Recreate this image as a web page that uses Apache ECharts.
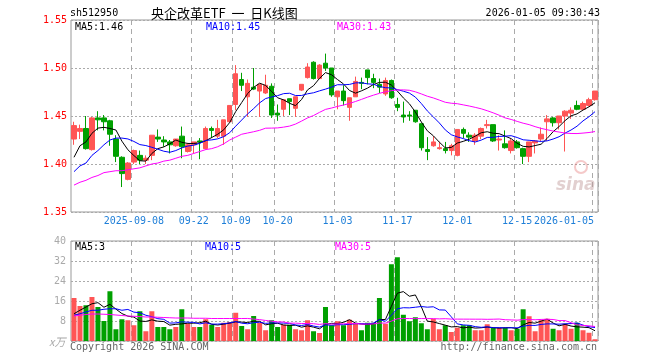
<!DOCTYPE html>
<html><head><meta charset="utf-8">
<script src="https://cdn.jsdelivr.net/npm/echarts@6/dist/echarts.min.js"></script>
<style>html,body{margin:0;padding:0;background:#fff}#c{width:660px;height:360px}</style>
</head><body><div id="c"></div>
<script>
// ---- data ----
const dates = [
 '2025-08-25','2025-08-26','2025-08-27','2025-08-28','2025-08-29',
 '2025-09-01','2025-09-02','2025-09-03','2025-09-04','2025-09-05',
 '2025-09-08','2025-09-09','2025-09-10','2025-09-11','2025-09-12',
 '2025-09-15','2025-09-16','2025-09-17','2025-09-18','2025-09-19',
 '2025-09-22','2025-09-23','2025-09-24','2025-09-25','2025-09-26',
 '2025-09-29','2025-09-30','2025-10-09','2025-10-10',
 '2025-10-13','2025-10-14','2025-10-15','2025-10-16','2025-10-17',
 '2025-10-20','2025-10-21','2025-10-22','2025-10-23','2025-10-24',
 '2025-10-27','2025-10-28','2025-10-29','2025-10-30','2025-10-31',
 '2025-11-03','2025-11-04','2025-11-05','2025-11-06','2025-11-07',
 '2025-11-10','2025-11-11','2025-11-12','2025-11-13','2025-11-14',
 '2025-11-17','2025-11-18','2025-11-19','2025-11-20','2025-11-21',
 '2025-11-24','2025-11-25','2025-11-26','2025-11-27','2025-11-28',
 '2025-12-01','2025-12-02','2025-12-03','2025-12-04','2025-12-05',
 '2025-12-08','2025-12-09','2025-12-10','2025-12-11','2025-12-12',
 '2025-12-15','2025-12-16','2025-12-17','2025-12-18','2025-12-19',
 '2025-12-22','2025-12-23','2025-12-24','2025-12-25','2025-12-26',
 '2025-12-29','2025-12-30','2025-12-31','2026-01-05'
];
const openP = [1.426,1.434,1.437,1.415,1.448,1.448,1.445,1.426,1.407,1.384,
 1.402,1.409,1.404,1.409,1.428,1.425,1.423,1.419,1.429,1.413,
 1.420,1.424,1.416,1.437,1.429,1.429,1.444,1.462,1.488,1.470,
 1.480,1.476,1.474,1.481,1.453,1.457,1.468,1.458,1.477,1.490,
 1.506,1.489,1.505,1.500,1.470,1.476,1.459,1.470,1.485,1.498,
 1.489,1.483,1.473,1.487,1.462,1.451,1.451,1.456,1.442,1.415,
 1.419,1.416,1.416,1.414,1.409,1.436,1.430,1.424,1.429,1.440,
 1.441,1.425,1.421,1.414,1.423,1.416,1.408,1.422,1.426,1.444,
 1.448,1.443,1.450,1.453,1.461,1.457,1.461,1.467];
const closeP = [1.440,1.437,1.416,1.448,1.446,1.444,1.431,1.408,1.390,1.401,
 1.414,1.404,1.406,1.430,1.426,1.423,1.420,1.426,1.418,1.420,
 1.423,1.423,1.437,1.435,1.437,1.446,1.461,1.494,1.482,1.484,
 1.478,1.483,1.482,1.451,1.451,1.467,1.465,1.470,1.483,1.501,
 1.489,1.503,1.500,1.472,1.476,1.466,1.469,1.486,1.484,1.490,
 1.485,1.480,1.487,1.469,1.459,1.449,1.450,1.444,1.417,1.413,
 1.423,1.417,1.414,1.419,1.436,1.432,1.428,1.430,1.437,1.441,
 1.424,1.426,1.417,1.424,1.417,1.408,1.423,1.424,1.431,1.447,
 1.443,1.450,1.455,1.456,1.457,1.463,1.467,1.476];
const lowP = [1.420,1.426,1.415,1.414,1.435,1.435,1.419,1.402,1.376,1.383,
 1.400,1.400,1.400,1.404,1.423,1.418,1.411,1.418,1.406,1.412,
 1.411,1.405,1.415,1.427,1.427,1.420,1.443,1.456,1.476,1.449,
 1.477,1.449,1.473,1.448,1.445,1.450,1.451,1.449,1.476,1.489,
 1.488,1.489,1.497,1.470,1.457,1.461,1.445,1.470,1.478,1.483,
 1.479,1.474,1.471,1.468,1.455,1.443,1.445,1.443,1.414,1.404,
 1.418,1.415,1.411,1.409,1.408,1.427,1.423,1.420,1.426,1.437,
 1.423,1.414,1.416,1.411,1.416,1.400,1.402,1.411,1.424,1.424,
 1.439,1.436,1.413,1.447,1.456,1.456,1.460,1.466];
const highP = [1.444,1.441,1.450,1.449,1.455,1.451,1.446,1.430,1.408,1.402,
 1.415,1.414,1.409,1.430,1.436,1.429,1.425,1.426,1.439,1.422,
 1.423,1.427,1.439,1.439,1.446,1.446,1.461,1.503,1.495,1.488,
 1.500,1.483,1.493,1.484,1.462,1.467,1.468,1.470,1.483,1.505,
 1.507,1.504,1.515,1.500,1.476,1.482,1.469,1.491,1.490,1.498,
 1.494,1.489,1.490,1.488,1.469,1.465,1.455,1.456,1.442,1.428,
 1.429,1.423,1.423,1.421,1.436,1.438,1.433,1.432,1.438,1.446,
 1.441,1.430,1.435,1.426,1.425,1.417,1.423,1.425,1.438,1.451,
 1.449,1.450,1.456,1.459,1.466,1.465,1.469,1.476];
const volume = [17.2,14.0,14.3,17.6,13.6,8.0,19.9,4.7,8.7,8.3,
 6.3,11.9,3.9,11.9,5.6,5.6,4.7,5.6,12.7,7.0,
 5.6,5.6,8.7,6.5,5.6,7.3,7.6,11.3,6.0,4.7,
 10.0,7.3,4.3,8.3,5.6,6.5,6.5,4.7,4.3,8.3,
 3.9,3.2,13.6,6.3,7.9,6.3,8.5,6.9,4.3,7.3,
 7.3,17.2,6.9,30.7,33.5,10.5,7.9,9.5,7.1,4.7,
 8.9,4.7,6.3,3.6,5.3,6.3,6.3,4.3,4.3,6.7,
 5.2,5.2,5.2,4.3,4.9,12.7,9.9,3.9,8.3,8.9,
 4.9,4.3,6.9,4.9,7.3,4.3,3.3,0.7];
// moving-average values before enough visible days exist
const ma5Head = [1.407,1.419,1.423,1.432];
const ma10Head = [1.392,1.398,1.401,1.409,1.414,1.420,1.425,1.427,1.427];
const ma30Head = [1.378,1.381,1.383,1.386,1.388,1.391,1.392,1.393,1.393,1.394,
 1.395,1.396,1.398,1.400,1.401,1.403,1.404,1.406,1.408,1.409,
 1.411,1.413,1.415,1.416,1.418,1.421,1.425,1.428,1.431];
const vma5Head = [10.9,12.3,13.6,14.9];
const vma10Head = [10.3,10.9,11.6,12.3,12.3,12.7,12.9,12.9,12.3];
const vma30Head = [10.0,10.3,10.6,10.8,10.8,10.7,10.6,10.4,10.2,10.0,
 9.9,9.8,9.6,9.6,9.5,9.4,9.3,9.2,9.2,9.2,
 9.1,9.1,9.1,9.0,9.0,9.0,9.0,9.0,9.0];
const tickDates = ['2025-09-08','2025-09-22','2025-10-09','2025-10-20','2025-11-03','2025-11-17','2025-12-01','2025-12-15','2026-01-05'];
const tickLabels = ['2025-09-08','09-22','10-09','10-20','11-03','11-17','12-01','12-15','2026-01-05'];
const priceTicks = [1.35,1.40,1.45,1.50,1.55];
const volTicks = [0,8,16,24,32,40];

// ---- helpers ----
function movingAvg(arr, n, head){
  return arr.map((v,i)=>{
    if(i < n-1) return head[i];
    let s=0; for(let k=i-n+1;k<=i;k++) s+=arr[k];
    return +(s/n).toFixed(4);
  });
}
const RED='#ff5555', GREEN='#00a000';
const kData = dates.map((d,i)=>[openP[i],closeP[i],lowP[i],highP[i]]);
const volData = volume.map((v,i)=>({value:v,itemStyle:{color: closeP[i]>=openP[i]?RED:GREEN}}));
const tickSet = new Set(tickDates);
const isTick = (idx,val)=>tickSet.has(dates[idx]);
const MONO = '"DejaVu Sans Mono", monospace';

const chart = echarts.init(document.getElementById('c'), null, {renderer:'canvas'});
const gridL = 71, gridW = 527;
const splitV = {show:true, interval:isTick, lineStyle:{color:'#aaa', type:[5,4], width:1}};
const option = {
  animation:false,
  backgroundColor:'#fff',
  grid:[
    {left:gridL, top:20, width:gridW, height:192, show:true, borderColor:'#999', borderWidth:1},
    {left:gridL, top:241, width:gridW, height:100, show:true, borderColor:'#999', borderWidth:1}
  ],
  xAxis:[
    {type:'category', gridIndex:0, data:dates, boundaryGap:true,
     axisLine:{show:false}, axisTick:{show:false}, splitLine:splitV,
     axisLabel:{interval:isTick, color:'#1f7fd8', fontFamily:MONO, fontSize:10, margin:4,
       formatter:(v)=>{const k=tickDates.indexOf(v); if(k<0) return ''; const t=tickLabels[k]; return k===tickLabels.length-1?'{r|'+t+'}':t;},
       rich:{r:{color:'#1f7fd8', fontFamily:MONO, fontSize:10, padding:[0,62,0,0]}}}},
    {type:'category', gridIndex:1, data:dates, boundaryGap:true,
     axisLine:{show:false}, axisTick:{show:false}, axisLabel:{show:false}, splitLine:splitV}
  ],
  yAxis:[
    {type:'value', gridIndex:0, min:priceTicks[0], max:priceTicks[priceTicks.length-1], interval:0.05,
     axisLine:{show:false}, axisTick:{show:false},
     axisLabel:{color:'#ff0000', fontFamily:MONO, fontSize:10, margin:4, formatter:v=>v.toFixed(2)},
     splitLine:{show:true, lineStyle:{color:'#aaa', type:[2,2], width:1}}},
    {type:'value', gridIndex:1, min:volTicks[0], max:volTicks[volTicks.length-1], interval:8,
     axisLine:{show:false}, axisTick:{show:false},
     axisLabel:{color:'#aaa', fontFamily:MONO, fontSize:10, margin:5, formatter:v=>v===0?'':String(v)},
     splitLine:{show:true, lineStyle:{color:'#aaa', type:[2,2], width:1}}}
  ],
  series:[
    {type:'candlestick', xAxisIndex:0, yAxisIndex:0, data:kData, barWidth:5,
     itemStyle:{color:RED, color0:GREEN, borderColor:RED, borderColor0:GREEN, borderWidth:1}, z:2},
    {type:'line', xAxisIndex:0, yAxisIndex:0, data:movingAvg(closeP,5,ma5Head), showSymbol:false, lineStyle:{color:'#000',width:1}, z:5},
    {type:'line', xAxisIndex:0, yAxisIndex:0, data:movingAvg(closeP,10,ma10Head), showSymbol:false, lineStyle:{color:'#0000ff',width:1}, z:5},
    {type:'line', xAxisIndex:0, yAxisIndex:0, data:movingAvg(closeP,30,ma30Head), showSymbol:false, lineStyle:{color:'#ff00ff',width:1}, z:5},
    {type:'bar', xAxisIndex:1, yAxisIndex:1, data:volData, barWidth:5, z:2},
    {type:'line', xAxisIndex:1, yAxisIndex:1, data:movingAvg(volume,5,vma5Head), showSymbol:false, lineStyle:{color:'#000',width:1}, z:5},
    {type:'line', xAxisIndex:1, yAxisIndex:1, data:movingAvg(volume,10,vma10Head), showSymbol:false, lineStyle:{color:'#0000ff',width:1}, z:5},
    {type:'line', xAxisIndex:1, yAxisIndex:1, data:movingAvg(volume,30,vma30Head), showSymbol:false, lineStyle:{color:'#ff00ff',width:1}, z:5}
  ],
  graphic:[
    {type:'text', x:70, y:13, style:{text:'sh512950', fill:'#000', font:'10px '+MONO, verticalAlign:'middle'}},
    {type:'text', x:151, y:13, style:{text:'央企改革ETF  一  日K线图', fill:'#000', font:'13px "Noto Sans CJK SC"', verticalAlign:'middle'}},
    {type:'text', x:600, y:13, style:{text:'2026-01-05 09:30:43', fill:'#000', font:'10px '+MONO, align:'right', verticalAlign:'middle'}},
    {type:'text', x:75, y:27, z:10, style:{text:'MA5:1.46', fill:'#000', font:'10px '+MONO, verticalAlign:'middle'}},
    {type:'text', x:206, y:27, z:10, style:{text:'MA10:1.45', fill:'#0000ff', font:'10px '+MONO, verticalAlign:'middle'}},
    {type:'text', x:337, y:27, z:10, style:{text:'MA30:1.43', fill:'#ff00ff', font:'10px '+MONO, verticalAlign:'middle'}},
    {type:'text', x:75, y:247, z:10, style:{text:'MA5:3', fill:'#000', font:'10px '+MONO, verticalAlign:'middle'}},
    {type:'text', x:205, y:247, z:10, style:{text:'MA10:5', fill:'#0000ff', font:'10px '+MONO, verticalAlign:'middle'}},
    {type:'text', x:335, y:247, z:10, style:{text:'MA30:5', fill:'#ff00ff', font:'10px '+MONO, verticalAlign:'middle'}},
    {type:'text', x:49, y:342, style:{text:'x万', fill:'#aaa', font:'italic 11px "Noto Sans CJK SC"', verticalAlign:'middle'}},
    {type:'text', x:70, y:347, style:{text:'Copyright 2026 SINA.COM', fill:'#666', font:'10px '+MONO, verticalAlign:'middle'}},
    {type:'text', x:597, y:347, style:{text:'http://finance.sina.com.cn', fill:'#666', font:'10px '+MONO, align:'right', verticalAlign:'middle'}},
    {type:'text', x:556, y:186, z:1, style:{text:'sina', fill:'rgba(190,150,150,0.45)', font:'italic bold 17px "DejaVu Sans"', verticalAlign:'middle'}},
    {type:'circle', shape:{cx:581, cy:167, r:6}, z:1, style:{fill:'none', stroke:'rgba(230,120,120,0.4)', lineWidth:2}}
  ]
};
chart.setOption(option);
</script></body></html>
